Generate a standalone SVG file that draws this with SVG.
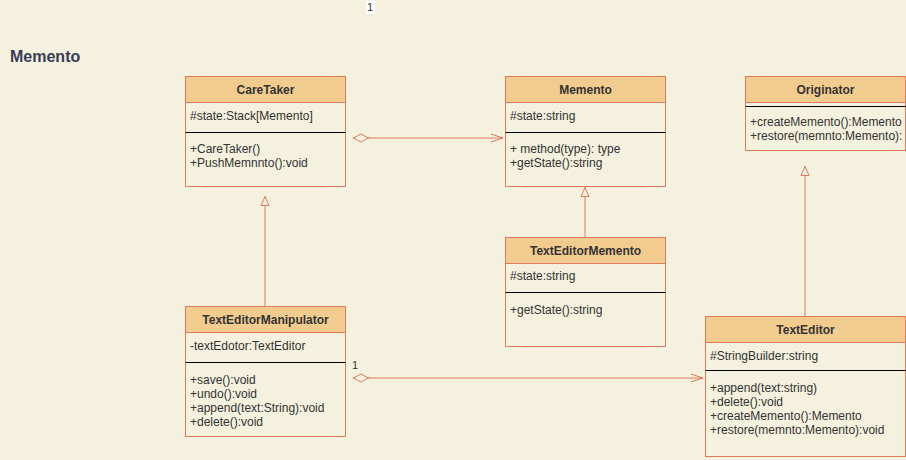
<svg xmlns="http://www.w3.org/2000/svg" width="906" height="460" viewBox="0 0 906 460">
<defs>
<style>
.box{fill:#F4F1DE;stroke:#E07A5F;stroke-width:1}
.hdr{fill:#F2CC8F;stroke:#E07A5F;stroke-width:1}
.sep{stroke:#000;stroke-width:1}
.t{font-family:"Liberation Sans",Arial,sans-serif;font-size:12px;fill:#333333}
.h{font-family:"Liberation Sans",Arial,sans-serif;font-size:12px;font-weight:bold;fill:#333333;text-anchor:middle}
.ln{stroke:#E07A5F;stroke-width:1;fill:none}
</style>
<marker id="open" viewBox="0 0 12 10" refX="12" refY="5" markerWidth="12" markerHeight="10" markerUnits="userSpaceOnUse" orient="auto">
<path d="M0,1 L12,5 L0,9" fill="none" stroke="#E07A5F" stroke-width="1"/>
</marker>
<marker id="dia" viewBox="0 0 16 10" refX="0" refY="5" markerWidth="16" markerHeight="10" markerUnits="userSpaceOnUse" orient="auto">
<path d="M0.5,5 L8,1 L15.5,5 L8,9 Z" fill="#F4F1DE" stroke="#E07A5F" stroke-width="1"/>
</marker>
<marker id="tri" viewBox="0 0 10 10" refX="10" refY="5" markerWidth="10" markerHeight="10" markerUnits="userSpaceOnUse" orient="auto">
<path d="M0.5,1 L9.5,5 L0.5,9 Z" fill="#F4F1DE" stroke="#E07A5F" stroke-width="1"/>
</marker>
</defs>
<rect width="906" height="460" fill="#F4F1DE"/>
<text x="10" y="62" font-family="'Liberation Sans',Arial,sans-serif" font-size="16" font-weight="bold" fill="#393C56">Memento</text>
<rect x="366" y="1" width="9" height="13" fill="#ffffff"/>
<text x="367" y="11" font-family="'Liberation Sans',Arial,sans-serif" font-size="11" fill="#333333">1</text>

<g id="connectors">
<path class="ln" d="M353,138 L503,138" marker-start="url(#dia)" marker-end="url(#open)"/>
<path class="ln" d="M353,378 L703,378" marker-start="url(#dia)" marker-end="url(#open)"/>
<path class="ln" d="M265,306 L265,196" marker-end="url(#tri)"/>
<path class="ln" d="M585,237 L585,187" marker-end="url(#tri)"/>
<path class="ln" d="M805,317 L805,166" marker-end="url(#tri)"/>
<text x="352" y="369" font-family="'Liberation Sans',Arial,sans-serif" font-size="11" fill="#333333">1</text>
</g>

<g id="CareTaker">
<rect class="box" x="185.5" y="76.5" width="160" height="110"/>
<rect class="hdr" x="185.5" y="76.5" width="160" height="26"/>
<text class="h" x="265.5" y="94">CareTaker</text>
<text class="t" x="190" y="120">#state:Stack[Memento]</text>
<line class="sep" x1="185.5" y1="132.5" x2="345.5" y2="132.5"/>
<text class="t" x="190" y="153">+CareTaker()</text>
<text class="t" x="190" y="167">+PushMemnnto():void</text>
</g>

<g id="Memento">
<rect class="box" x="505.5" y="76.5" width="160" height="110"/>
<rect class="hdr" x="505.5" y="76.5" width="160" height="26"/>
<text class="h" x="585.5" y="94">Memento</text>
<text class="t" x="510" y="120">#state:string</text>
<line class="sep" x1="505.5" y1="132.5" x2="665.5" y2="132.5"/>
<text class="t" x="510" y="153">+ method(type): type</text>
<text class="t" x="510" y="167">+getState():string</text>
</g>

<g id="Originator">
<rect class="box" x="745.5" y="76.5" width="160" height="74"/>
<rect class="hdr" x="745.5" y="76.5" width="160" height="26"/>
<text class="h" x="825.5" y="94">Originator</text>
<line class="sep" x1="745.5" y1="106.5" x2="905.5" y2="106.5"/>
<text class="t" x="750" y="126">+createMemento():Memento</text>
<text class="t" x="750" y="140">+restore(memnto:Memento):</text>
</g>

<g id="TextEditorMemento">
<rect class="box" x="505.5" y="237.5" width="160" height="109"/>
<rect class="hdr" x="505.5" y="237.5" width="160" height="26"/>
<text class="h" x="585.5" y="255">TextEditorMemento</text>
<text class="t" x="510" y="280">#state:string</text>
<line class="sep" x1="505.5" y1="292.5" x2="665.5" y2="292.5"/>
<text class="t" x="510" y="314">+getState():string</text>
</g>

<g id="TextEditorManipulator">
<rect class="box" x="185.5" y="306.5" width="160" height="130"/>
<rect class="hdr" x="185.5" y="306.5" width="160" height="26"/>
<text class="h" x="265.5" y="324">TextEditorManipulator</text>
<text class="t" x="190" y="350">-textEdotor:TextEditor</text>
<line class="sep" x1="185.5" y1="362.5" x2="345.5" y2="362.5"/>
<text class="t" x="190" y="384">+save():void</text>
<text class="t" x="190" y="398">+undo():void</text>
<text class="t" x="190" y="412">+append(text:String):void</text>
<text class="t" x="190" y="426">+delete():void</text>
</g>

<g id="TextEditor">
<rect class="box" x="705.5" y="316.5" width="200" height="140"/>
<rect class="hdr" x="705.5" y="316.5" width="200" height="26"/>
<text class="h" x="805.5" y="334">TextEditor</text>
<text class="t" x="710" y="360">#StringBuilder:string</text>
<line class="sep" x1="705.5" y1="370.5" x2="905.5" y2="370.5"/>
<text class="t" x="710" y="392">+append(text:string)</text>
<text class="t" x="710" y="406">+delete():void</text>
<text class="t" x="710" y="420">+createMemento():Memento</text>
<text class="t" x="710" y="434">+restore(memnto:Memento):void</text>
</g>
</svg>
